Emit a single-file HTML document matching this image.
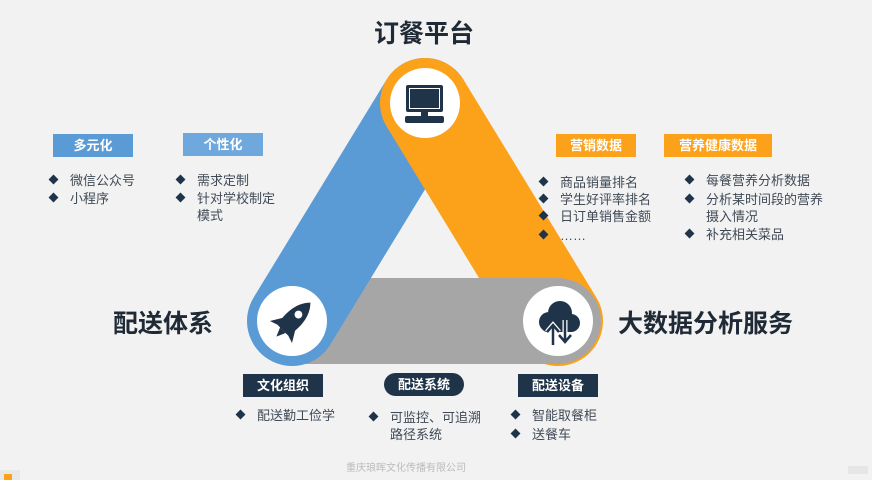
<!DOCTYPE html>
<html><head><meta charset="utf-8"><style>
body{margin:0;width:872px;height:480px;background:#f2f2f2;overflow:hidden;position:relative;font-family:"Liberation Sans","Noto Sans CJK SC",sans-serif;color:#404a56}
.a{position:absolute;white-space:nowrap}
.box{position:absolute;color:#fff;font-weight:bold;font-size:13px;text-align:center;line-height:23px;height:23px}
.li{position:absolute;font-size:13px;line-height:17px}
.li:before{content:"";position:absolute;left:-20px;top:4px;width:7px;height:7px;background:#1f3349;transform:rotate(45deg)}
.big{position:absolute;font-size:25px;color:#1f2a36;font-weight:bold}
</style></head><body>
<svg width="872" height="480" style="position:absolute;left:0;top:0">
<line x1="292" y1="321" x2="558" y2="321" stroke="#a6a6a6" stroke-width="86" stroke-linecap="round"/>
<line x1="292" y1="321" x2="425" y2="103" stroke="#5b9bd5" stroke-width="90" stroke-linecap="round"/>
<line x1="425" y1="103" x2="558" y2="321" stroke="#fca11a" stroke-width="90" stroke-linecap="round"/>
<line x1="480" y1="321" x2="558" y2="321" stroke="#a6a6a6" stroke-width="86" stroke-linecap="round"/>
<circle cx="425" cy="103" r="35" fill="#fff"/>
<circle cx="292" cy="321" r="35" fill="#fff"/>
<circle cx="558" cy="321" r="35" fill="#fff"/>
<rect x="406" y="85" width="37" height="27" rx="2" fill="#1f3349"/>
<rect x="409.5" y="88.5" width="30" height="20" fill="#1f3349" stroke="#fff" stroke-width="1"/>
<rect x="421" y="112" width="7" height="5" fill="#1f3349"/>
<rect x="405" y="116" width="39" height="7" rx="2" fill="#1f3349"/>
<g transform="translate(292,321) rotate(45) scale(1.3)" fill="#1f3349">
<path d="M0,-20 C8,-12 8,0 6,10 L-6,10 C-8,0 -8,-12 0,-20Z"/>
<path d="M-6,2 L-12,12 L-6,10Z M6,2 L12,12 L6,10Z M-3,10 L0,17 L3,10Z"/>
<circle cx="0" cy="-7" r="3" fill="#fff"/>
</g>
<g fill="#1f3349">
<circle cx="549" cy="322" r="10"/><circle cx="560" cy="313" r="12"/><circle cx="571" cy="323" r="9"/>
<rect x="542" y="322" width="33" height="10" rx="5"/>
</g>
<path d="M553,345 L553,327 M547,332 L553,325 L559,332" stroke="#fff" stroke-width="5" fill="none"/>
<path d="M553,345 L553,327 M547,332 L553,325 L559,332" stroke="#1f3349" stroke-width="2.5" fill="none"/>
<path d="M565,320 L565,340 M559,335 L565,342 L571,335" stroke="#fff" stroke-width="5" fill="none"/>
<path d="M565,320 L565,340 M559,335 L565,342 L571,335" stroke="#1f3349" stroke-width="2.5" fill="none"/>
</svg>
<div class="big" style="left:374px;top:14px">订餐平台</div>
<div class="big" style="left:113px;top:304px">配送体系</div>
<div class="big" style="left:618px;top:304px">大数据分析服务</div>
<div class="box" style="left:53px;top:134px;width:80px;background:#5b9bd5">多元化</div>
<div class="box" style="left:183px;top:133px;width:80px;background:#6fa8dc">个性化</div>
<div class="box" style="left:556px;top:134px;width:80px;background:#fca11a">营销数据</div>
<div class="box" style="left:664px;top:134px;width:108px;background:#fca11a">营养健康数据</div>
<div class="box" style="left:243px;top:374px;width:80px;background:#1f3349">文化组织</div>
<div class="box" style="left:384px;top:373px;width:80px;background:#1f3349;border-radius:12px">配送系统</div>
<div class="box" style="left:518px;top:374px;width:80px;background:#1f3349">配送设备</div>
<div class="li" style="left:70px;top:172px">微信公众号</div>
<div class="li" style="left:70px;top:190px">小程序</div>
<div class="li" style="left:197px;top:172px">需求定制</div>
<div class="li" style="left:197px;top:190px">针对学校制定<br>模式</div>
<div class="li" style="left:560px;top:174px">商品销量排名</div>
<div class="li" style="left:560px;top:191px">学生好评率排名</div>
<div class="li" style="left:560px;top:208px">日订单销售金额</div>
<div class="li" style="left:560px;top:227px">……</div>
<div class="li" style="left:706px;top:172px">每餐营养分析数据</div>
<div class="li" style="left:706px;top:191px">分析某时间段的营养<br>摄入情况</div>
<div class="li" style="left:706px;top:226px">补充相关菜品</div>
<div class="li" style="left:257px;top:407px">配送勤工俭学</div>
<div class="li" style="left:390px;top:409px">可监控、可追溯<br>路径系统</div>
<div class="li" style="left:532px;top:407px">智能取餐柜</div>
<div class="li" style="left:532px;top:426px">送餐车</div>
<div class="a" style="left:346px;top:459px;font-size:10px;color:#bbb">重庆琅晖文化传播有限公司</div>
<div class="a" style="left:0;top:470px;width:20px;height:10px;background:#e8e8e8"></div>
<div class="a" style="left:4px;top:474px;width:8px;height:6px;background:#fca11a"></div>
<div class="a" style="left:848px;top:466px;width:20px;height:8px;background:#e6e6e6"></div>
</body></html>
